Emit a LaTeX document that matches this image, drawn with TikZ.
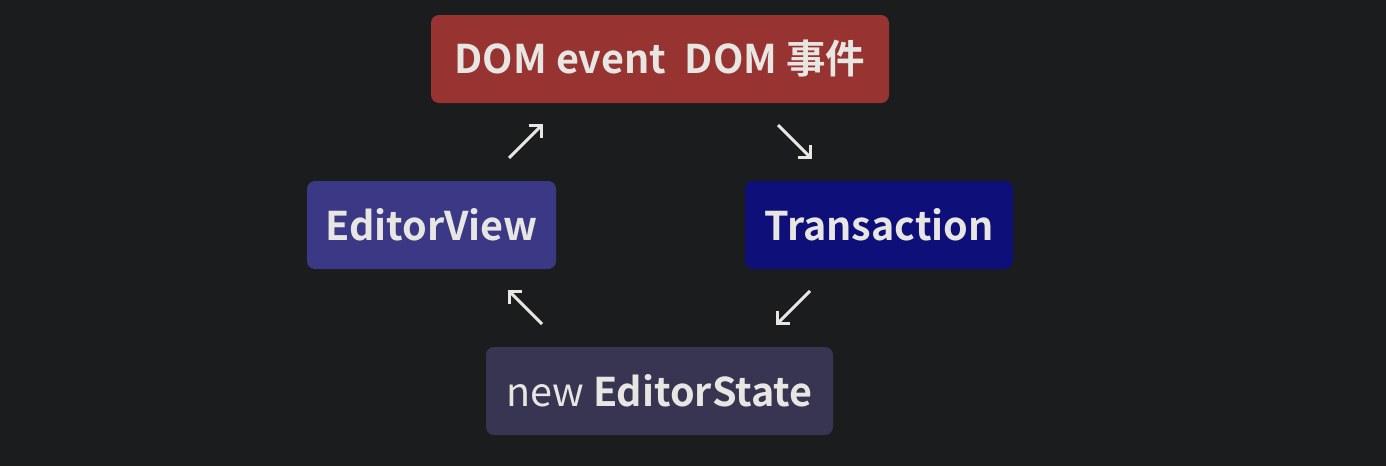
\documentclass[tikz,border=0pt]{standalone}
\usepackage{fontspec}
\setmainfont{Noto Sans CJK SC}[BoldFont={Noto Sans CJK SC Bold}]
\usetikzlibrary{arrows.meta}
\definecolor{bg}{HTML}{1B1C1E}
\definecolor{fg}{HTML}{E8E6E3}
\definecolor{domc}{HTML}{973431}
\definecolor{viewc}{HTML}{3B3985}
\definecolor{trc}{HTML}{0F0F7A}
\definecolor{statec}{HTML}{383552}
\begin{document}
\begin{tikzpicture}[x=1pt,y=-1pt,
  box/.style={rounded corners=8pt, inner sep=0pt, text=fg, font=\fontsize{39.5}{41}\selectfont\bfseries},
  flow/.style={draw=fg, line width=3pt, -{Straight Barb[length=9pt,width=18pt,line width=3pt]}}]
\fill[bg] (0,0) rectangle (1386,466);
\useasboundingbox (0,0) rectangle (1386,466);
\node[box, fill=domc, minimum width=458pt, minimum height=88pt] (dom) at (660,59) {DOM event\hspace{0.25em} DOM 事件};
\node[box, fill=viewc, minimum width=249pt, minimum height=88pt] (view) at (431.5,225) {EditorView};
\node[box, fill=trc, minimum width=268pt, minimum height=88pt] (tr) at (879,225) {Transaction};
\node[box, fill=statec, minimum width=347pt, minimum height=88pt] (state) at (659.5,391) {{\mdseries new} EditorState};
\coordinate (a1s) at (509,158); \coordinate (a1e) at (543,124);
\coordinate (a2s) at (778,125); \coordinate (a2e) at (812,159);
\coordinate (a3s) at (810,291); \coordinate (a3e) at (776,325);
\coordinate (a4s) at (542,324); \coordinate (a4e) at (508,290);
\draw[flow] (a1s) -- (a1e);
\draw[flow] (a2s) -- (a2e);
\draw[flow] (a3s) -- (a3e);
\draw[flow] (a4s) -- (a4e);
\end{tikzpicture}
\end{document}
